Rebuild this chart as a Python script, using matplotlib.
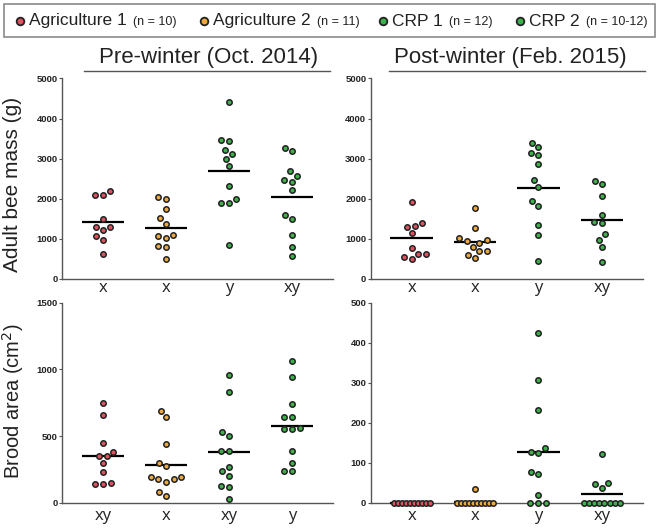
import numpy as np
import matplotlib
matplotlib.use("Agg")
import matplotlib.pyplot as plt
from matplotlib.lines import Line2D
from matplotlib.patches import Rectangle

# ---- data ----
groups = ["Agriculture 1", "Agriculture 2", "CRP 1", "CRP 2"]
group_n = ["(n = 10)", "(n = 11)", "(n = 12)", "(n = 10-12)"]
colors = ["#e0525e", "#f2a93b", "#3cb34a", "#3cb34a"]

mass_pre = [
    [2190, 2090, 2090, 1490, 1290, 1210, 1290, 1080, 970, 630],
    [2040, 2000, 1740, 1520, 1380, 1100, 1030, 1060, 820, 790, 500],
    [4420, 3460, 3440, 3220, 3110, 2990, 2810, 2320, 1900, 1900, 1990, 840],
    [3270, 3190, 2700, 2580, 2420, 2470, 2210, 1590, 1490, 1100, 800, 570],
]
mass_post = [
    [1920, 1330, 1390, 1300, 1140, 780, 630, 510, 560, 630],
    [1760, 1270, 980, 1010, 940, 900, 800, 690, 690, 590, 520],
    [3390, 3290, 3080, 3140, 2860, 2460, 2300, 1940, 1820, 1350, 1090, 450],
    [2450, 2360, 2070, 1600, 1410, 1400, 1110, 980, 790, 430],
]
brood_pre = [
    [750, 655, 450, 385, 355, 350, 300, 230, 147, 143, 143],
    [692, 645, 445, 300, 274, 195, 177, 158, 177, 195, 83, 55],
    [957, 830, 530, 500, 387, 387, 272, 237, 205, 130, 117, 32],
    [1062, 940, 737, 640, 645, 557, 557, 562, 392, 300, 237, 242],
]
brood_post = [
    [0, 0, 0, 0, 0, 0, 0, 0, 0, 0],
    [34, 0, 0, 0, 0, 0, 0, 0, 0, 0, 0],
    [423, 307, 233, 136, 124, 128, 78, 72, 21, 0, 0, 0],
    [121, 48, 38, 51, 0, 0, 0, 0, 0, 0, 0, 0],
]

letters_mass_pre = ["x", "x", "y", "xy"]
letters_mass_post = ["x", "x", "y", "xy"]
letters_brood_pre = ["xy", "x", "xy", "y"]
letters_brood_post = ["x", "x", "y", "xy"]

W, H = 658, 528
SANS = ["Liberation Sans", "DejaVu Sans"]
EDGE = "#222222"
SPINE = "#555555"


def px_axes(fig, x0, y0, x1, y1):
    return fig.add_axes([x0 / W, 1 - y1 / H, (x1 - x0) / W, (y1 - y0) / H])


def swarm_offsets(values, px_per_unit, d=8.0, row_cap=18.0):
    """Simple beeswarm in pixel space; long rows of ties get squeezed."""
    vals = np.asarray(values, float)
    ys = vals * px_per_unit
    offs = np.zeros(len(vals))
    placed = []
    uniq, counts = np.unique(vals, return_counts=True)
    for u, c in zip(uniq, counts):
        if c >= 4:
            idx = np.where(vals == u)[0]
            step = min(d, 2 * row_cap / (c - 1))
            offs[idx] = (np.arange(c) - (c - 1) / 2) * step
            placed.extend(idx)
    for i in np.argsort(vals, kind="stable"):
        if i in placed:
            continue
        cands = [0.0]
        bad = []
        for j in placed:
            dy = ys[i] - ys[j]
            if abs(dy) < d:
                w = np.sqrt(d * d - dy * dy)
                bad.append((offs[j] - w, offs[j] + w))
                cands += [offs[j] - w, offs[j] + w]
        cands.sort(key=lambda c: (round(abs(c), 6), c))
        for c in cands:
            if all(not (lo + 1e-6 < c < hi - 1e-6) for lo, hi in bad):
                offs[i] = c
                break
        placed.append(i)
    return offs


def panel(ax, data, letters, ymax, step, box_px, xpad):
    ax.set_xlim(-0.65, 3.65)
    ax.set_ylim(0, ymax)
    wpx = box_px[0]
    hpx = box_px[1]
    x_scale = wpx / 4.3
    y_scale = hpx / ymax
    for k, vals in enumerate(data):
        offs = swarm_offsets(vals, y_scale) / x_scale
        ax.plot(k + offs, vals, "o", ms=3.9, mfc=colors[k], mec=EDGE,
                mew=1.1, clip_on=False, zorder=4)
        m = np.mean(vals)
        ax.plot([k - 0.335, k + 0.335], [m, m], color="black", lw=1.6,
                solid_capstyle="butt", zorder=3, clip_on=False)
    for s in ["top", "right"]:
        ax.spines[s].set_visible(False)
    for s in ["left", "bottom"]:
        ax.spines[s].set_color(SPINE)
        ax.spines[s].set_linewidth(1.0)
        ax.spines[s].set_zorder(1)
    ax.set_yticks(np.arange(0, ymax + 1, step))
    ax.tick_params(axis="y", length=2.5, width=0.8, color=SPINE, pad=0.5,
                   labelsize=6.8, labelcolor="#222222")
    for lab in ax.get_yticklabels():
        lab.set_fontweight("bold")
        lab.set_family(SANS)
    ax.set_xticks(range(4))
    ax.set_xticklabels(letters, fontsize=12, family=["Open Sans", "DejaVu Sans"],
                       color="#222222")
    ax.tick_params(axis="x", length=0, pad=xpad)


def main():
    fig = plt.figure(figsize=(W / 100, H / 100), dpi=100)

    left = (62, 333)
    right = (370.5, 643)
    top = (78.5, 279)
    bot = (302.5, 503)

    ax1 = px_axes(fig, left[0], top[0], left[1], top[1])
    ax2 = px_axes(fig, right[0], top[0], right[1], top[1])
    ax3 = px_axes(fig, left[0], bot[0], left[1], bot[1])
    ax4 = px_axes(fig, right[0], bot[0], right[1], bot[1])

    panel(ax1, mass_pre, letters_mass_pre, 5000, 1000,
          (left[1] - left[0], top[1] - top[0]), 1)
    panel(ax2, mass_post, letters_mass_post, 5000, 1000,
          (right[1] - right[0], top[1] - top[0]), 1)
    panel(ax3, brood_pre, letters_brood_pre, 1500, 500,
          (left[1] - left[0], bot[1] - bot[0]), 3.5)
    panel(ax4, brood_post, letters_brood_post, 500, 100,
          (right[1] - right[0], bot[1] - bot[0]), 3.5)

    # y labels
    fig.text(13 / W, 1 - 184 / H, "Adult bee mass (g)", rotation=90,
             ha="center", va="center", fontsize=15, family=SANS, color="#222222")
    fig.text(13 / W, 1 - 401 / H, "Brood area (cm$^2$)", rotation=90,
             ha="center", va="center", fontsize=14.5, family=SANS, color="#222222")

    # column titles with underline
    for cx, (u0, u1), title in [(209, (84, 330), "Pre-winter (Oct. 2014)"),
                                (510, (389, 645), "Post-winter (Feb. 2015)")]:
        fig.text(cx / W, 1 - 57 / H, title, ha="center", va="center",
                 fontsize=16, family=SANS, color="#222222")
        fig.add_artist(Line2D([u0 / W, u1 / W], [1 - 71 / H, 1 - 71 / H],
                              color=SPINE, lw=1.0))

    # legend strip
    lax = fig.add_axes([0, 1 - 42 / H, 1, 42 / H])
    lax.set_xlim(0, W)
    lax.set_ylim(42, 0)
    lax.axis("off")
    lax.add_patch(Rectangle((4, 4), 651, 33, fill=False, ec="#8a8a8a", lw=1.2))
    fig.canvas.draw()
    renderer = fig.canvas.get_renderer()
    mx = [20, 204, 383, 520]
    for k in range(4):
        lax.plot(mx[k], 21, "o", ms=5.5, mfc=colors[k], mec=EDGE, mew=1.3)
        t = lax.text(mx[k] + 9, 21, groups[k], ha="left", va="center",
                     fontsize=12.5, family=SANS, color="#222222")
        bb = t.get_window_extent(renderer)
        x_end = lax.transData.inverted().transform((bb.x1, bb.y0))[0]
        lax.text(x_end + 6, 22, group_n[k], ha="left", va="center",
                 fontsize=9, family=SANS, color="#222222")

    fig.savefig("out.png", dpi=100)


if __name__ == "__main__":
    main()
